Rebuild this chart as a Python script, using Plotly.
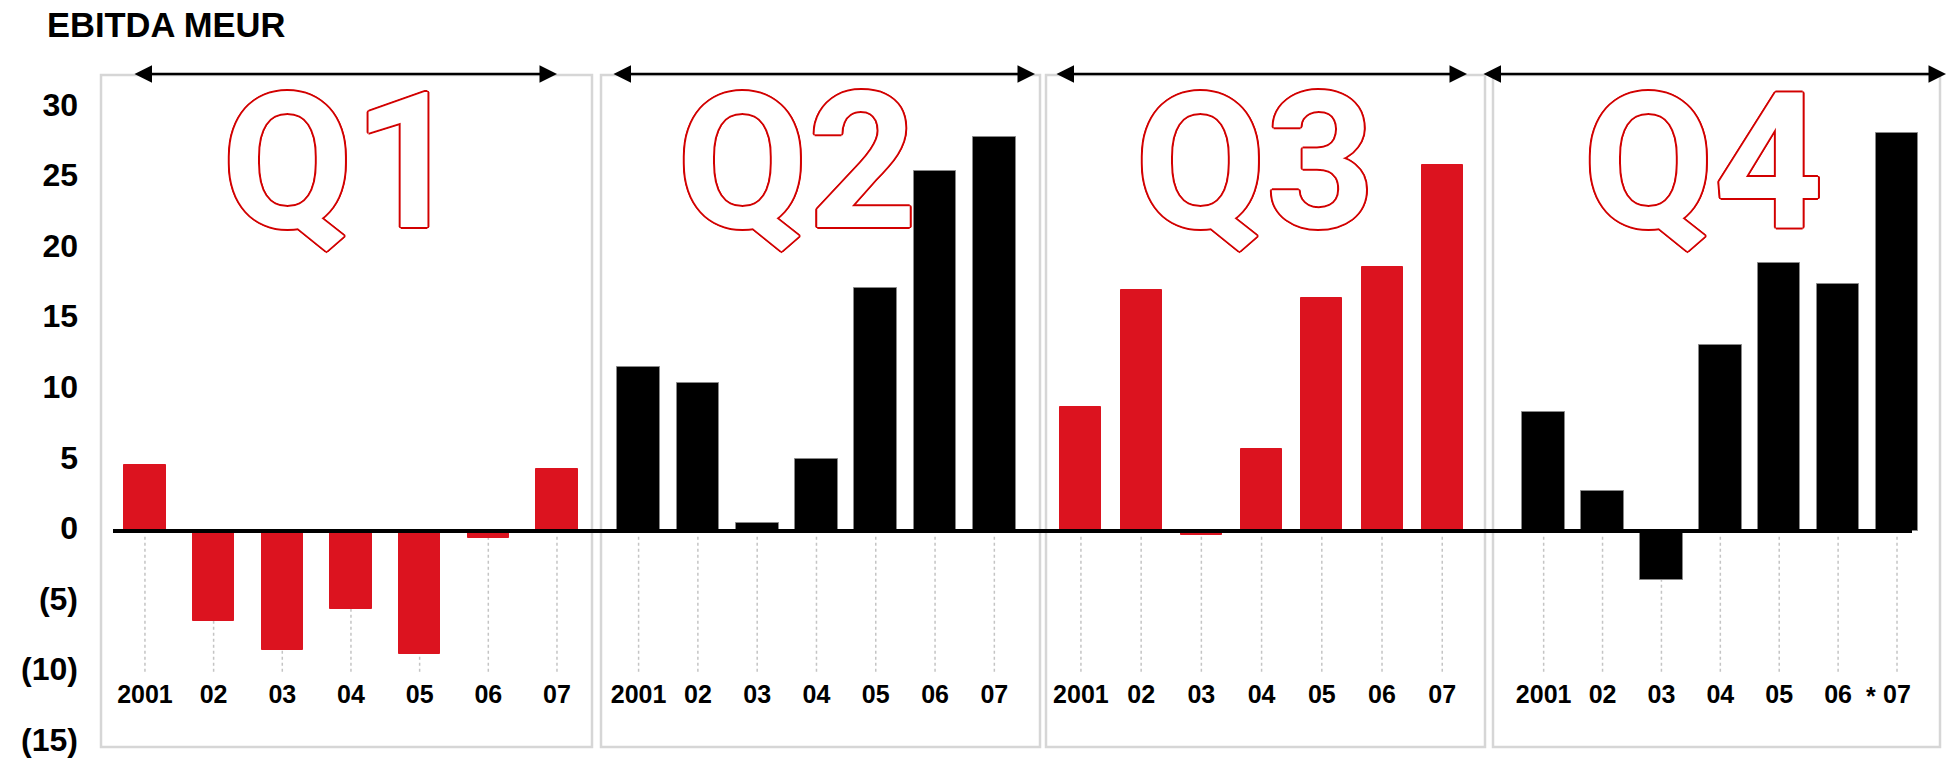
import plotly.graph_objects as go

# EBITDA by quarter, MEUR, 2001-2007
years = ["2001", "02", "03", "04", "05", "06", "07"]
quarters = ["Q1", "Q2", "Q3", "Q4"]
q1_values = [4.7, -6.4, -8.4, -5.5, -8.7, -0.5, 4.4]
q2_values = [11.6, 10.5, 0.6, 5.1, 17.2, 25.5, 27.9]
q3_values = [8.8, 17.1, -0.3, 5.8, 16.5, 18.7, 25.9]
q4_values = [8.4, 2.8, -3.5, 13.2, 19.0, 17.5, 28.2]
y_tick_values = [-15, -10, -5, 0, 5, 10, 15, 20, 25, 30]
y_tick_labels = ["(15)", "(10)", "(5)", "0", "5", "10", "15", "20", "25", "30"]

W, H = 1956, 759
RED = "#dc131f"
OUTLINE = "#d20000"
FONT = "Liberation Sans"
BIG_FONT = "Roboto"


def px_x(v):
    return v / W


def px_y(v):
    return (H - v) / H


series = [q1_values, q2_values, q3_values, q4_values]
colors = [RED, "black", RED, "black"]
bar_widths = [0.6, 0.72, 0.68, 0.72]
# panel boxes (left, right) in pixels and x ranges in category units
panels = [(101, 592), (601, 1040), (1046, 1485), (1493, 1940)]
x_ranges = [(-0.64, 6.51), (-0.634, 6.77), (-0.58, 6.71), (-0.86, 6.73)]
arrow_spans = [(133, 557), (612, 1035), (1055, 1467), (1482, 1946)]
label_x = [342, 797, 1255, 1703]
panel_top, panel_bottom = 75, 747

fig = go.Figure()
for i, (vals, col, bw) in enumerate(zip(series, colors, bar_widths)):
    xa = "x" if i == 0 else f"x{i + 1}"
    fig.add_trace(go.Bar(
        x=list(range(len(years))), y=vals, width=bw,
        marker=dict(color=col, line=dict(color="#888888" if col == "black" else col, width=1)),
        xaxis=xa, yaxis="y", showlegend=False, hoverinfo="y",
    ))

layout = dict(
    width=W, height=H, margin=dict(l=0, r=0, t=0, b=0, autoexpand=False),
    paper_bgcolor="white", plot_bgcolor="rgba(0,0,0,0)",
    bargap=0, showlegend=False,
    font=dict(family=FONT, color="black", weight="bold"),
    yaxis=dict(
        domain=[px_y(panel_bottom), px_y(panel_top)], range=[-15.3, 32.3],
        tickvals=y_tick_values, ticktext=y_tick_labels,
        tickfont=dict(size=32, family=FONT, weight="bold", color="black"),
        showgrid=False, zeroline=False, showline=False, ticks="",
        ticklabelstandoff=22, ticklabelshift=-3, ticklabeloverflow="allow", anchor="x",
        automargin=False, fixedrange=True,
    ),
)
for i, ((l, r), rng) in enumerate(zip(panels, x_ranges)):
    key = "xaxis" if i == 0 else f"xaxis{i + 1}"
    layout[key] = dict(
        domain=[px_x(l), px_x(r)], range=list(rng),
        tickvals=list(range(len(years))), ticktext=years,
        tickfont=dict(size=25, family=FONT, weight="bold", color="black"),
        showgrid=False, zeroline=False, showline=False, ticks="",
        anchor="free", position=px_y(677), automargin=False, fixedrange=True,
    )
fig.update_layout(**layout)

outline_shadow = ", ".join(
    f"{dx}px {dy}px 0 {OUTLINE}"
    for dx, dy in [(2, 0), (-2, 0), (0, 2), (0, -2),
                   (1.4, 1.4), (-1.4, -1.4), (1.4, -1.4), (-1.4, 1.4)]
)

shapes = []
annotations = []
for i, ((l, r), (a0, a1)) in enumerate(zip(panels, arrow_spans)):
    xa = "x" if i == 0 else f"x{i + 1}"
    # panel frame
    shapes.append(dict(type="rect", xref="paper", yref="paper",
                       x0=px_x(l), x1=px_x(r), y0=px_y(panel_bottom), y1=px_y(panel_top),
                       line=dict(color="#d6d6d6", width=2.5), layer="below"))
    # dotted guides under each year
    for k in range(len(years)):
        shapes.append(dict(type="line", xref=xa, yref="y", x0=k, x1=k, y0=-0.4, y1=-10,
                           line=dict(color="#c4c4c4", width=1.5, dash="dot"), layer="below"))
    # double-headed arrow spanning the quarter
    annotations.append(dict(
        xref="paper", yref="paper", axref="pixel", ayref="pixel",
        x=px_x(a1), y=px_y(74), ax=-(a1 - a0), ay=0, text="",
        showarrow=True, arrowside="end+start", arrowhead=2, startarrowhead=2,
        arrowwidth=2.5, arrowsize=1.4, startarrowsize=1.4, arrowcolor="black",
    ))
    # outlined quarter label (white fill, red contour)
    annotations.append(dict(
        xref="paper", yref="paper", x=px_x(label_x[i]), y=px_y(162),
        xanchor="center", yanchor="middle", text=quarters[i], showarrow=False,
        font=dict(family=BIG_FONT, size=190, weight=700, color="white", shadow=outline_shadow),
    ))

# zero baseline across all quarters
shapes.append(dict(type="line", xref="paper", yref="y", x0=px_x(113), x1=px_x(1912),
                   y0=0, y1=0, line=dict(color="black", width=4), layer="above"))

annotations.append(dict(xref="paper", yref="paper", x=px_x(45), y=px_y(25),
                        xanchor="left", yanchor="middle", text="EBITDA MEUR", showarrow=False,
                        font=dict(family=FONT, size=34.5, weight="bold", color="black")))
annotations.append(dict(xref="x4", yref="paper", x=5.555, y=px_y(696),
                        xanchor="center", yanchor="middle", text="*", showarrow=False,
                        font=dict(family=FONT, size=25, weight="bold", color="black")))

fig.update_layout(shapes=shapes, annotations=annotations)
fig.write_html("out.html")
